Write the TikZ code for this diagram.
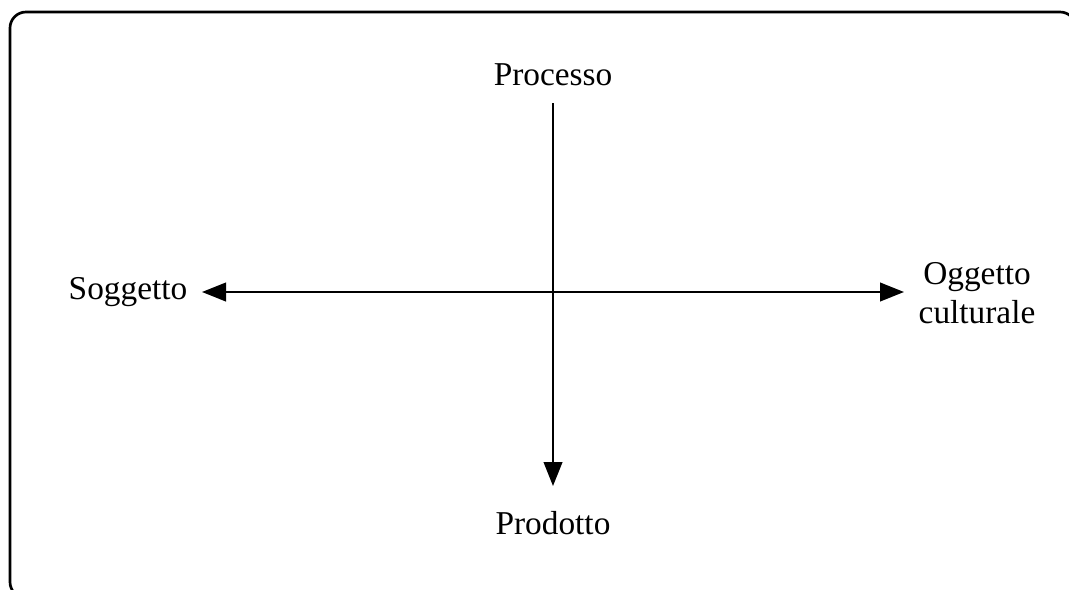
\documentclass[tikz,border=0pt]{standalone}
\usepackage{fontspec}
\setmainfont{Liberation Serif}
\usetikzlibrary{arrows.meta}
\begin{document}
\begin{tikzpicture}[x=0.75pt,y=-0.75pt,
  label/.style={font=\fontsize{25}{29}\selectfont, align=center, inner sep=0pt},
  axis/.style={line width=1.5pt, {Triangle[length=18pt,width=14pt]}-{Triangle[length=18pt,width=14pt]}},
  oneway/.style={line width=1.5pt, -{Triangle[length=18pt,width=14pt]}},
  frame/.style={line width=2pt, rounded corners=12pt}]
  \useasboundingbox (0,0) rectangle (1069,589);
  \clip (0,0) rectangle (1069,589);
  % outer frame, running past the right and bottom edges
  \draw[frame] (10,12) rectangle (1076,598);

  % labels
  \node[label] (proc) at (553,75) {Processo};
  \node[label] (prod) at (553,523) {Prodotto};
  \node[label] (sog)  at (128,292) {Soggetto};
  \node[label] (ogg)  at (977,293) {Oggetto\\culturale};

  % axis end points
  \coordinate (vtop) at (553,103);
  \coordinate (vbot) at (553,486);
  \coordinate (hleft) at (202,292);
  \coordinate (hright) at (904,292);

  \draw[oneway] (vtop) -- (vbot);
  \draw[axis] (hleft) -- (hright);
\end{tikzpicture}
\end{document}
